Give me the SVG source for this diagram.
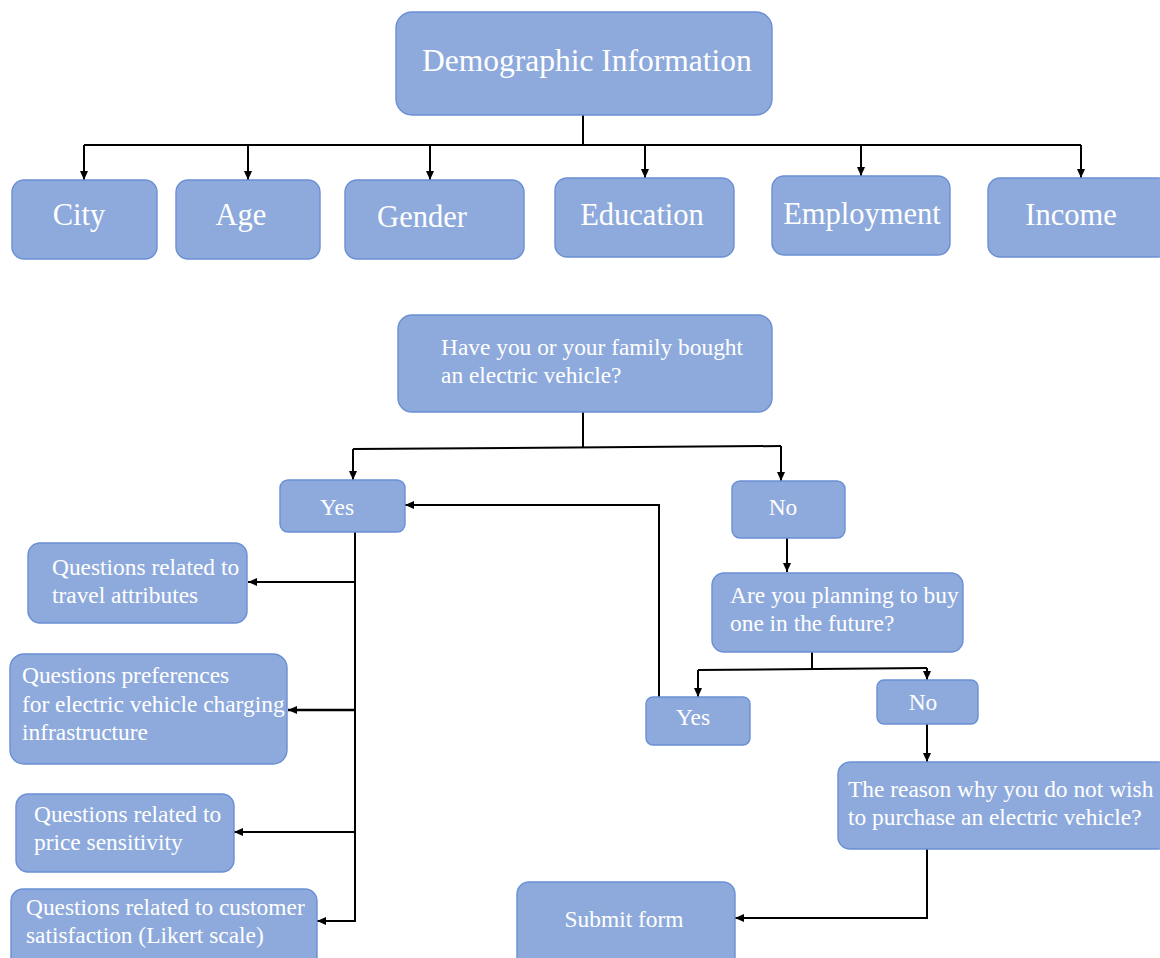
<svg xmlns="http://www.w3.org/2000/svg" width="1160" height="958" viewBox="0 0 1160 958">
<style>
.box{fill:#8eaadc;stroke:#6a8fd4;stroke-width:1.4}
.t{fill:#ffffff;font-family:"Liberation Serif","Times New Roman",serif}
.big{font-size:31.5px}
.mid{font-size:30.5px}
.sm{font-size:23.4px}
.c{text-anchor:middle}
.ln{fill:none;stroke:#000;stroke-width:2}
</style>
<defs>
<marker id="ah" markerUnits="userSpaceOnUse" markerWidth="9" markerHeight="8" refX="9" refY="4" orient="auto" viewBox="0 0 9 8">
<path d="M0,0 L9,4 L0,8 z" fill="#000"/>
</marker>
</defs>
<rect width="1160" height="958" fill="#fff"/>
<g id="connectors">
<path class="ln" d="M583,115 V145"/>
<path class="ln" d="M84,145 H1081"/>
<path class="ln" d="M84,145 V180" marker-end="url(#ah)"/>
<path class="ln" d="M248,145 V180" marker-end="url(#ah)"/>
<path class="ln" d="M430,145 V180" marker-end="url(#ah)"/>
<path class="ln" d="M645,145 V178" marker-end="url(#ah)"/>
<path class="ln" d="M861,145 V176" marker-end="url(#ah)"/>
<path class="ln" d="M1081,145 V178" marker-end="url(#ah)"/>
<path class="ln" d="M583,412 V447"/>
<path class="ln" d="M353,449 L781,446"/>
<path class="ln" d="M353,449 V480" marker-end="url(#ah)"/>
<path class="ln" d="M781,446 V481" marker-end="url(#ah)"/>
<path class="ln" d="M659,697 V505 H405" marker-end="url(#ah)"/>
<path class="ln" d="M355,532 V922"/>
<path class="ln" d="M355,582 H248" marker-end="url(#ah)"/>
<path class="ln" d="M355,710 H288" marker-end="url(#ah)" style="stroke-width:2.6"/>
<path class="ln" d="M355,832 H234" marker-end="url(#ah)"/>
<path class="ln" d="M355,921 H317" marker-end="url(#ah)"/>
<path class="ln" d="M787,538 V572" marker-end="url(#ah)"/>
<path class="ln" d="M812,652 V669"/>
<path class="ln" d="M698,670 L927,668"/>
<path class="ln" d="M698,670 V697" marker-end="url(#ah)"/>
<path class="ln" d="M927,668 V680" marker-end="url(#ah)"/>
<path class="ln" d="M927,724 V762" marker-end="url(#ah)"/>
<path class="ln" d="M927,849 V918 H735" marker-end="url(#ah)"/>
</g>
<g id="demographic">
<rect class="box" x="396" y="12" width="376" height="103" rx="16"/>
<text class="t big" x="422" y="71">Demographic Information</text>
</g>
<g id="city">
<rect class="box" x="12" y="180" width="145" height="79" rx="12"/>
<text class="t mid c" x="79" y="225">City</text>
</g>
<g id="age">
<rect class="box" x="176" y="180" width="144" height="79" rx="12"/>
<text class="t mid c" x="241" y="225">Age</text>
</g>
<g id="gender">
<rect class="box" x="345" y="180" width="179" height="79" rx="12"/>
<text class="t mid c" x="422" y="227">Gender</text>
</g>
<g id="education">
<rect class="box" x="555" y="178" width="179" height="79" rx="12"/>
<text class="t mid c" x="642" y="225">Education</text>
</g>
<g id="employment">
<rect class="box" x="772" y="176" width="178" height="79" rx="12"/>
<text class="t mid c" x="862" y="224">Employment</text>
</g>
<g id="income">
<rect class="box" x="988" y="178" width="182" height="79" rx="12"/>
<text class="t mid c" x="1071" y="225">Income</text>
</g>
<g id="bought">
<rect class="box" x="398" y="315" width="374" height="97" rx="14"/>
<text class="t sm" x="441" y="355">Have you or your family bought</text>
<text class="t sm" x="441" y="383">an electric vehicle?</text>
</g>
<g id="yes1">
<rect class="box" x="280" y="480" width="125" height="52" rx="8"/>
<text class="t sm c" x="337" y="515">Yes</text>
</g>
<g id="no1">
<rect class="box" x="732" y="481" width="113" height="57" rx="8"/>
<text class="t sm c" x="783" y="515">No</text>
</g>
<g id="travel">
<rect class="box" x="28" y="543" width="219" height="80" rx="12"/>
<text class="t sm" x="52" y="575">Questions related to</text>
<text class="t sm" x="52" y="603">travel attributes</text>
</g>
<g id="charging">
<rect class="box" x="10" y="654" width="277" height="110" rx="14"/>
<text class="t sm" x="22" y="683">Questions preferences</text>
<text class="t sm" x="22" y="712">for electric vehicle charging</text>
<text class="t sm" x="22" y="740">infrastructure</text>
</g>
<g id="price">
<rect class="box" x="16" y="794" width="218" height="78" rx="12"/>
<text class="t sm" x="34" y="822">Questions related to</text>
<text class="t sm" x="34" y="850">price sensitivity</text>
</g>
<g id="satisfaction">
<rect class="box" x="11" y="889" width="306" height="80" rx="12"/>
<text class="t sm" x="26" y="915">Questions related to customer</text>
<text class="t sm" x="26" y="943">satisfaction (Likert scale)</text>
</g>
<g id="planning">
<rect class="box" x="712" y="573" width="251" height="79" rx="12"/>
<text class="t sm" x="730" y="603">Are you planning to buy</text>
<text class="t sm" x="730" y="631">one in the future?</text>
</g>
<g id="yes2">
<rect class="box" x="646" y="697" width="104" height="48" rx="7"/>
<text class="t sm c" x="693" y="725">Yes</text>
</g>
<g id="no2">
<rect class="box" x="877" y="680" width="101" height="44" rx="7"/>
<text class="t sm c" x="923" y="710">No</text>
</g>
<g id="reason">
<rect class="box" x="838" y="762" width="332" height="87" rx="12"/>
<text class="t sm" x="848" y="797">The reason why you do not wish</text>
<text class="t sm" x="848" y="825">to purchase an electric vehicle?</text>
</g>
<g id="submit">
<rect class="box" x="517" y="882" width="218" height="90" rx="12"/>
<text class="t sm c" x="624" y="927">Submit form</text>
</g>
</svg>
